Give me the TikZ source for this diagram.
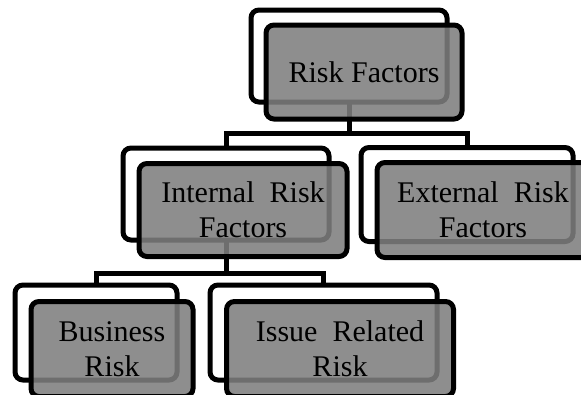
\documentclass[tikz,border=0pt]{standalone}
\usepackage{fontspec}
\setmainfont{Liberation Serif}
\begin{document}
\begin{tikzpicture}[x=1pt,y=-1pt,
  backbox/.style={draw=black, line width=5pt, rounded corners=8pt, fill=white, rectangle, inner sep=0pt, outer sep=0pt},
  frontbox/.style={draw=black, line width=5pt, rounded corners=8pt, fill=black!50.6, fill opacity=0.875, text opacity=1, rectangle, inner sep=0pt, outer sep=0pt, align=center, font=\fontsize{30}{35}\selectfont},
  conn/.style={draw=black, line width=5pt}]
\useasboundingbox (0,0) rectangle (581,394);
\clip (0,0) rectangle (581,394);
% back boxes
\node[backbox, minimum width=196pt, minimum height=92pt] (rb) at (349,56) {};
\node[backbox, minimum width=206pt, minimum height=92pt] (ib) at (226,194) {};
\node[backbox, minimum width=212pt, minimum height=94pt] (eb) at (467,194.5) {};
\node[backbox, minimum width=162pt, minimum height=95pt] (bb) at (96,332.5) {};
\node[backbox, minimum width=227pt, minimum height=95pt] (qb) at (323.5,332.5) {};
% connectors
\coordinate (bar1) at (349,133);
\coordinate (bar2) at (226,273);
\draw[conn] (rb.south) -- (bar1);
\draw[conn] (ib.north) |- (bar1) -| (eb.north);
\draw[conn] (ib.south) -- (bar2);
\draw[conn] (bb.north) |- (bar2) -| (qb.north);
% front boxes
\node[frontbox, minimum width=196pt, minimum height=94pt] (rf) at (364,72) {Risk\ Factors};
\node[frontbox, minimum width=208pt, minimum height=93pt] (if) at (243,210) {Internal\ \ Risk\\Factors};
\node[frontbox, minimum width=212pt, minimum height=95pt] (ef) at (483,210) {External\ \ Risk\\Factors};
\node[frontbox, minimum width=162pt, minimum height=95pt] (bf) at (112,349) {Business\\Risk};
\node[frontbox, minimum width=227pt, minimum height=95pt] (qf) at (340,349) {Issue\ \ Related\\Risk};
\end{tikzpicture}
\end{document}
